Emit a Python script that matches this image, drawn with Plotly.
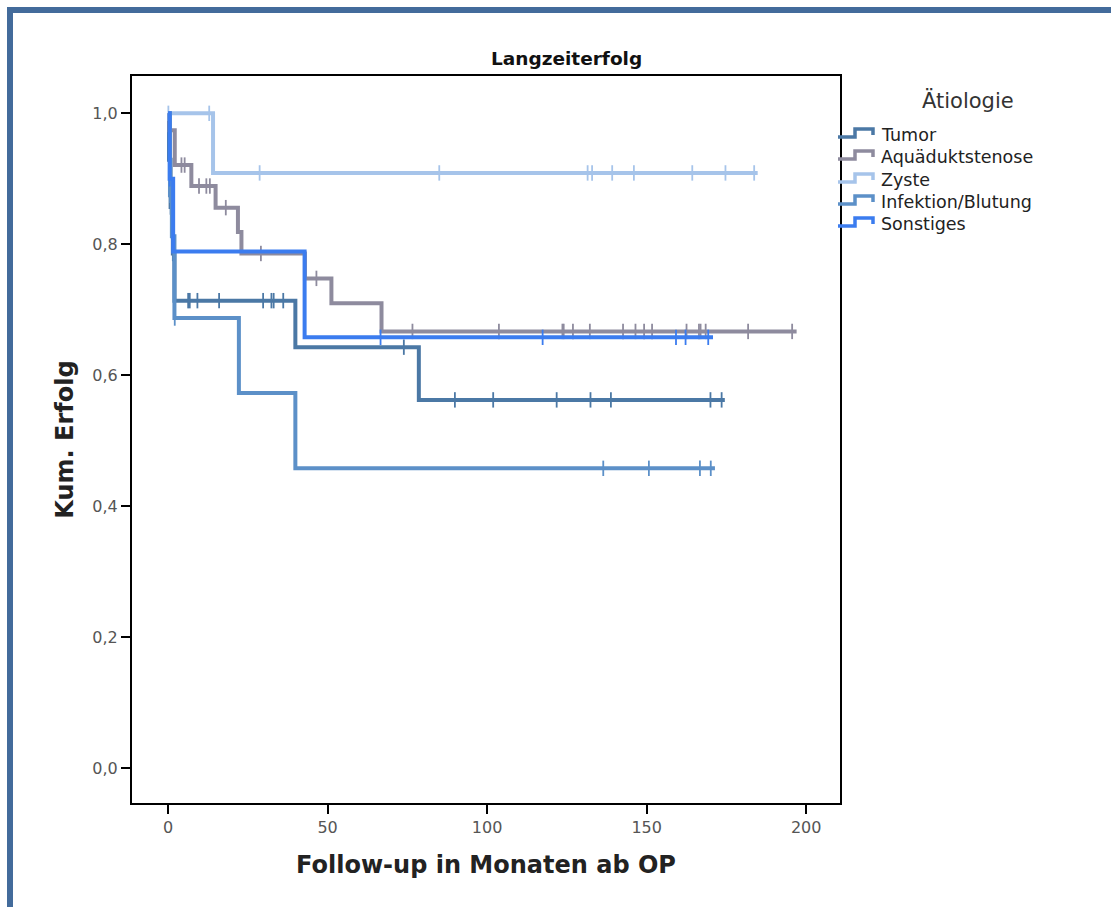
import plotly.graph_objects as go

# ---- Kaplan-Meier step data per etiology group (months, cumulative success) ----
groups = ["Tumor", "Aquäduktstenose", "Zyste", "Infektion/Blutung", "Sonstiges"]
colors = ["#4b78a5", "#8e8b9e", "#a6c4ea", "#5c90c8", "#3b7cef"]

tumor_t = [0, 0.3, 0.8, 1.5, 2.0, 39.9, 78.6]
tumor_s = [1.0, 0.929, 0.857, 0.786, 0.714, 0.643, 0.5625]
tumor_end = 174.5
tumor_cens = [0.3, 0.8, 1.5, 6.3, 6.8, 9.2, 16.0, 29.8, 32.4, 33.1, 36.1, 73.9,
              89.9, 101.9, 121.8, 132.4, 138.8, 170.0, 173.5]

aqu_t = [0, 0.4, 2.1, 7.3, 14.9, 21.9, 23.0, 42.9, 51.2, 66.9]
aqu_s = [1.0, 0.974, 0.921, 0.889, 0.856, 0.819, 0.786, 0.748, 0.710, 0.667]
aqu_end = 197.0
aqu_cens = [0.5, 4.2, 5.2, 9.7, 12.0, 13.1, 18.1, 29.1, 46.5, 76.6, 103.7, 123.6,
            124.0, 126.9, 132.2, 142.6, 146.5, 149.2, 151.7, 162.5, 166.4, 166.9,
            168.5, 181.8, 195.6]

zyste_t = [0, 14.1]
zyste_s = [1.0, 0.909]
zyste_end = 184.8
zyste_cens = [0.1, 12.9, 28.7, 85.0, 131.5, 132.9, 139.2, 146.0, 164.3, 174.7, 183.7]

infekt_t = [0, 0.6, 1.2, 2.0, 22.2, 39.9]
infekt_s = [1.0, 0.875, 0.8125, 0.6875, 0.573, 0.458]
infekt_end = 171.4
infekt_cens = [0.6, 2.1, 136.4, 150.7, 166.7, 170.1]

sonst_t = [0, 0.5, 1.6, 42.8]
sonst_s = [1.0, 0.90, 0.789, 0.658]
sonst_end = 170.8
sonst_cens = [0.5, 66.6, 117.4, 159.2, 162.2, 169.3]

series = [
    (tumor_t, tumor_s, tumor_end, tumor_cens),
    (aqu_t, aqu_s, aqu_end, aqu_cens),
    (zyste_t, zyste_s, zyste_end, zyste_cens),
    (infekt_t, infekt_s, infekt_end, infekt_cens),
    (sonst_t, sonst_s, sonst_end, sonst_cens),
]

x_ticks = [0, 50, 100, 150, 200]
y_ticks = [0.0, 0.2, 0.4, 0.6, 0.8, 1.0]

# ---- page geometry ----
W, H = 1111, 907
ML, MR, MT, MB = 132, 271, 76, 104
PW, PH = W - ML - MR, H - MT - MB


def px(x):
    return (x - ML) / PW


def py(y):
    return (H - MB - y) / PH


def surv_at(times, surv, t):
    s = surv[0]
    for ti, si in zip(times, surv):
        if ti <= t:
            s = si
    return s


fig = go.Figure()

for name, col, (t, s, end, cens) in zip(groups, colors, series):
    fig.add_trace(go.Scatter(
        x=t + [end], y=s + [s[-1]], mode="lines", line_shape="hv",
        line=dict(color=col, width=4), name=name, showlegend=False,
        hoverinfo="skip"))
    fig.add_trace(go.Scatter(
        x=cens, y=[surv_at(t, s, c) for c in cens], mode="markers",
        marker=dict(symbol="line-ns-open", size=11, color=col,
                    line=dict(color=col, width=1.8)),
        showlegend=False, hoverinfo="skip"))

shapes = []
# blue window frame (top and left edges)
frame_col = "#436b9b"
shapes.append(dict(type="rect", xref="paper", yref="paper",
                   x0=px(7), x1=px(W + 5), y0=py(13), y1=py(7),
                   fillcolor=frame_col, line_width=0, layer="above"))
shapes.append(dict(type="rect", xref="paper", yref="paper",
                   x0=px(7), x1=px(13), y0=py(H + 5), y1=py(7),
                   fillcolor=frame_col, line_width=0, layer="above"))

annotations = []
# hand-built legend with step-shaped swatches
legend_y = [135, 157, 180, 202, 224]
for name, col, yc in zip(groups, colors, legend_y):
    pts = [(838, yc + 2), (855, yc + 2), (855, yc - 6), (873, yc - 6), (873, yc)]
    path = "M " + " L ".join(f"{px(a):.5f},{py(b):.5f}" for a, b in pts)
    shapes.append(dict(type="path", xref="paper", yref="paper", path=path,
                       line=dict(color=col, width=3.5), layer="above"))
    annotations.append(dict(text=name, x=px(879), y=py(yc), xref="paper",
                            yref="paper", xanchor="left", yanchor="middle",
                            showarrow=False,
                            font=dict(family="DejaVu Sans", size=17.5, color="#222")))

annotations.append(dict(text="Ätiologie", x=px(968), y=py(100), xref="paper",
                        yref="paper", xanchor="center", yanchor="middle",
                        showarrow=False,
                        font=dict(family="DejaVu Sans", size=21, color="#333")))
annotations.append(dict(text="<b>Langzeiterfolg</b>", x=px(566), y=py(58),
                        xref="paper", yref="paper", xanchor="center",
                        yanchor="middle", showarrow=False,
                        font=dict(family="DejaVu Sans", size=18.5, color="#111")))

fig.update_layout(
    width=W, height=H,
    margin=dict(l=ML, r=MR, t=MT, b=MB),
    paper_bgcolor="white", plot_bgcolor="white",
    separators=",.",
    shapes=shapes, annotations=annotations,
    showlegend=False,
    xaxis=dict(range=[-11.3, 210.6], tickvals=x_ticks, showgrid=False,
               zeroline=False, showline=True, linecolor="black", linewidth=2,
               mirror=True, ticks="outside", ticklen=9, tickwidth=2,
               tickcolor="black",
               tickfont=dict(family="DejaVu Sans", size=16, color="#555"),
               title=dict(text="<b>Follow-up in Monaten ab OP</b>", standoff=20,
                          font=dict(family="DejaVu Sans", size=24, color="#222"))),
    yaxis=dict(range=[-0.053, 1.057], tickvals=y_ticks, tickformat=".1f",
               showgrid=False, zeroline=False, showline=True, linecolor="black",
               linewidth=2, mirror=True, ticks="outside", ticklen=9,
               tickwidth=2, tickcolor="black",
               tickfont=dict(family="DejaVu Sans", size=16, color="#555"),
               title=dict(text="<b>Kum. Erfolg</b>", standoff=12,
                          font=dict(family="DejaVu Sans", size=24, color="#222"))),
)

fig.write_html("out.html")
